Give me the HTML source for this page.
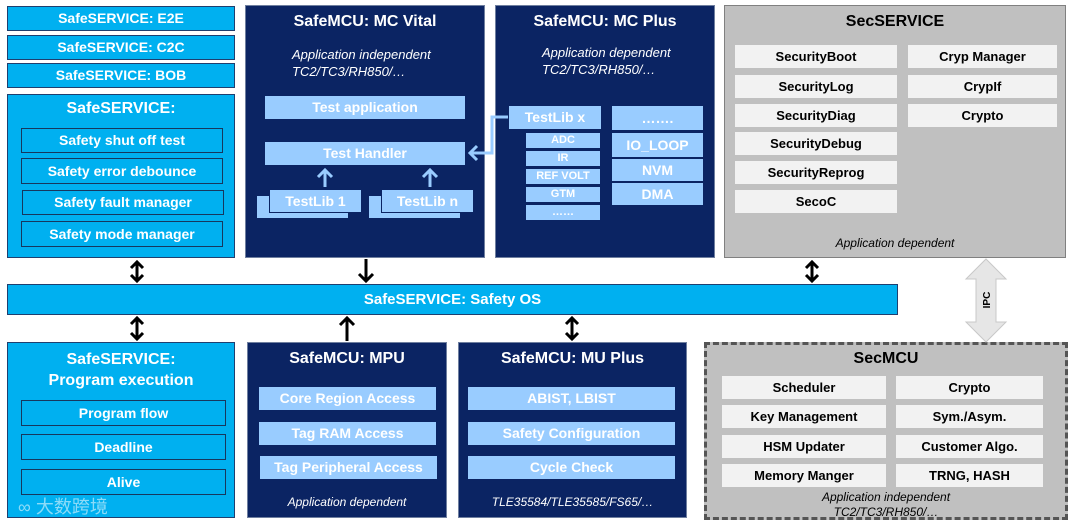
<!DOCTYPE html>
<html><head><meta charset="utf-8"><style>
body{margin:0;width:1080px;height:527px;background:#fff;position:relative;overflow:hidden;font-family:"Liberation Sans",Arial,sans-serif}
div{position:absolute;box-sizing:border-box}
.lb{background:#00b0f0;border:1.5px solid #1f3f6f;color:#fff;font-weight:bold;text-align:center}
.nv{background:#0b2463;border:1.5px solid #6f7f9f;color:#fff;font-weight:bold;text-align:center}
.gr{background:#c0c0c0;border:1.5px solid #808080;color:#000;text-align:center;font-weight:bold}
.it{background:#99ccff;color:#fff;font-weight:bold;text-align:center;border:1px solid #0b2463;font-size:14px}
.li{background:#00b0f0;border:1.5px solid #17375e;color:#fff;font-weight:bold;text-align:center;font-size:14px}
.gi{background:#f2f2f2;color:#000;font-weight:bold;text-align:center;font-size:13px}
.t{font-size:16px;font-weight:bold}
.i{font-style:italic;font-weight:normal;font-size:13px}
</style></head><body>
<div class="lb" style="left:7px;top:6px;width:228px;height:25px;line-height:23px;font-size:14px">SafeSERVICE: E2E</div>
<div class="lb" style="left:7px;top:35px;width:228px;height:25px;line-height:23px;font-size:14px">SafeSERVICE: C2C</div>
<div class="lb" style="left:7px;top:63px;width:228px;height:25px;line-height:23px;font-size:14px">SafeSERVICE: BOB</div>
<div class="lb" style="left:7px;top:94px;width:228px;height:164px"><div class="t" style="left:0;right:0;top:5px">SafeSERVICE:</div></div>
<div class="li" style="left:21px;top:128px;width:202px;height:25px;line-height:23px">Safety shut off test</div>
<div class="li" style="left:21px;top:158px;width:202px;height:26px;line-height:24px">Safety error debounce</div>
<div class="li" style="left:22px;top:190px;width:202px;height:25px;line-height:23px">Safety fault manager</div>
<div class="li" style="left:21px;top:221px;width:202px;height:26px;line-height:24px">Safety mode manager</div>

<div class="nv" style="left:245px;top:5px;width:240px;height:253px">
<div class="t" style="left:0;right:0;top:7px">SafeMCU: MC Vital</div>
<div class="i" style="left:46px;top:40px;text-align:left;line-height:17px">Application independent<br>TC2/TC3/RH850/…</div></div>
<div class="it" style="left:264px;top:95px;width:202px;height:25px;line-height:23px">Test application</div>
<div class="it" style="left:264px;top:141px;width:202px;height:25px;line-height:23px">Test Handler</div>
<div class="it" style="left:256px;top:195px;width:93px;height:24px"></div>
<div class="it" style="left:269px;top:189px;width:93px;height:24px;line-height:22px">TestLib 1</div>
<div class="it" style="left:368px;top:195px;width:93px;height:24px"></div>
<div class="it" style="left:381px;top:189px;width:93px;height:24px;line-height:22px">TestLib n</div>

<div class="nv" style="left:495px;top:5px;width:220px;height:253px">
<div class="t" style="left:0;right:0;top:7px">SafeMCU: MC Plus</div>
<div class="i" style="left:46px;top:38px;text-align:left;line-height:17px">Application dependent<br>TC2/TC3/RH850/…</div></div>
<div class="it" style="left:508px;top:105px;width:94px;height:25px;line-height:23px">TestLib x</div>
<div class="it" style="left:525px;top:132px;width:76px;height:17px;line-height:15px;font-size:11px">ADC</div>
<div class="it" style="left:525px;top:150px;width:76px;height:17px;line-height:15px;font-size:11px">IR</div>
<div class="it" style="left:525px;top:168px;width:76px;height:17px;line-height:15px;font-size:11px">REF VOLT</div>
<div class="it" style="left:525px;top:186px;width:76px;height:17px;line-height:15px;font-size:11px">GTM</div>
<div class="it" style="left:525px;top:204px;width:76px;height:17px;line-height:15px;font-size:11px">……</div>
<div class="it" style="left:611px;top:105px;width:93px;height:26px;line-height:24px">…….</div>
<div class="it" style="left:611px;top:132px;width:93px;height:26px;line-height:24px">IO_LOOP</div>
<div class="it" style="left:611px;top:158px;width:93px;height:24px;line-height:22px">NVM</div>
<div class="it" style="left:611px;top:182px;width:93px;height:24px;line-height:22px">DMA</div>

<div class="gr" style="left:724px;top:5px;width:342px;height:253px">
<div class="t" style="left:0;right:0;top:7px">SecSERVICE</div>
<div class="i" style="left:0;right:0;top:230px;font-size:12px">Application dependent</div></div>
<div class="gi" style="left:735px;top:45px;width:162px;height:23px;line-height:23px">SecurityBoot</div>
<div class="gi" style="left:735px;top:75px;width:162px;height:23px;line-height:23px">SecurityLog</div>
<div class="gi" style="left:735px;top:104px;width:162px;height:23px;line-height:23px">SecurityDiag</div>
<div class="gi" style="left:735px;top:132px;width:162px;height:23px;line-height:23px">SecurityDebug</div>
<div class="gi" style="left:735px;top:161px;width:162px;height:23px;line-height:23px">SecurityReprog</div>
<div class="gi" style="left:735px;top:190px;width:162px;height:23px;line-height:23px">SecoC</div>
<div class="gi" style="left:908px;top:45px;width:149px;height:23px;line-height:23px">Cryp Manager</div>
<div class="gi" style="left:908px;top:75px;width:149px;height:23px;line-height:23px">CrypIf</div>
<div class="gi" style="left:908px;top:104px;width:149px;height:23px;line-height:23px">Crypto</div>

<div class="lb" style="left:7px;top:284px;width:891px;height:31px;line-height:29px;font-size:15px">SafeSERVICE: Safety OS</div>

<div class="lb" style="left:7px;top:342px;width:228px;height:176px"><div class="t" style="left:0;right:0;top:6px;line-height:21px">SafeSERVICE:<br>Program execution</div>
<div style="left:10px;top:150px;color:rgba(255,255,255,.55);font-size:18px;font-weight:normal;font-family:'Liberation Sans','Noto Sans CJK SC',sans-serif">∞ 大数跨境</div></div>
<div class="li" style="left:21px;top:400px;width:205px;height:26px;line-height:24px">Program flow</div>
<div class="li" style="left:21px;top:434px;width:205px;height:26px;line-height:24px">Deadline</div>
<div class="li" style="left:21px;top:469px;width:205px;height:26px;line-height:24px">Alive</div>

<div class="nv" style="left:247px;top:342px;width:200px;height:176px">
<div class="t" style="left:0;right:0;top:7px">SafeMCU: MPU</div>
<div class="i" style="left:0;right:0;top:152px;font-size:12px">Application dependent</div></div>
<div class="it" style="left:258px;top:386px;width:179px;height:25px;line-height:23px">Core Region Access</div>
<div class="it" style="left:258px;top:421px;width:179px;height:25px;line-height:23px">Tag RAM Access</div>
<div class="it" style="left:259px;top:455px;width:179px;height:25px;line-height:23px">Tag Peripheral Access</div>

<div class="nv" style="left:458px;top:342px;width:229px;height:176px">
<div class="t" style="left:0;right:0;top:7px">SafeMCU: MU Plus</div>
<div class="i" style="left:0;right:0;top:152px;font-size:12px">TLE35584/TLE35585/FS65/…</div></div>
<div class="it" style="left:467px;top:386px;width:209px;height:25px;line-height:23px">ABIST, LBIST</div>
<div class="it" style="left:467px;top:421px;width:209px;height:25px;line-height:23px">Safety Configuration</div>
<div class="it" style="left:467px;top:455px;width:209px;height:25px;line-height:23px">Cycle Check</div>

<div class="gr" style="left:704px;top:342px;width:364px;height:178px;border:3px dashed #555">
<div class="t" style="left:0;right:0;top:5px">SecMCU</div>
<div class="i" style="left:0;right:0;top:145px;font-size:12px;line-height:15px">Application independent<br>TC2/TC3/RH850/…</div></div>
<div class="gi" style="left:722px;top:376px;width:164px;height:23px;line-height:23px">Scheduler</div>
<div class="gi" style="left:722px;top:405px;width:164px;height:23px;line-height:23px">Key Management</div>
<div class="gi" style="left:722px;top:435px;width:164px;height:23px;line-height:23px">HSM Updater</div>
<div class="gi" style="left:722px;top:464px;width:164px;height:23px;line-height:23px">Memory Manger</div>
<div class="gi" style="left:896px;top:376px;width:147px;height:23px;line-height:23px">Crypto</div>
<div class="gi" style="left:896px;top:405px;width:147px;height:23px;line-height:23px">Sym./Asym.</div>
<div class="gi" style="left:896px;top:435px;width:147px;height:23px;line-height:23px">Customer Algo.</div>
<div class="gi" style="left:896px;top:464px;width:147px;height:23px;line-height:23px">TRNG, HASH</div>

<svg style="position:absolute;left:0;top:0" width="1080" height="527">
<g stroke="#000" stroke-width="3" fill="none">
<path d="M137 262V281M131 268L137 262L143 268M131 275L137 281L143 275"/>
<path d="M812 262V281M806 268L812 262L818 268M806 275L812 281L818 275"/>
<path d="M137 318V339M131 324L137 318L143 324M131 333L137 339L143 333"/>
<path d="M572 318V339M566 324L572 318L578 324M566 333L572 339L578 333"/>
<path d="M366 259V281M359 274L366 281L373 274"/>
<path d="M347 318V341M340 325L347 318L354 325"/>
</g>
<g stroke="#99ccff" stroke-width="3" fill="none">
<path d="M325 187V170M318 177L325 170L332 177"/>
<path d="M430 187V170M423 177L430 170L437 177"/>
<path d="M508 117H492V153H470M477 146L470 153L477 160"/>
</g>
<path d="M986 259L1006 279H996V322H1006L986 342L966 322H976V279H966Z" fill="#e6e6e6" stroke="#c8c8c8"/>
<text x="990" y="300" font-size="10" font-weight="bold" transform="rotate(-90 990 300)" text-anchor="middle" font-family="Liberation Sans">IPC</text>
</svg>
</body></html>
